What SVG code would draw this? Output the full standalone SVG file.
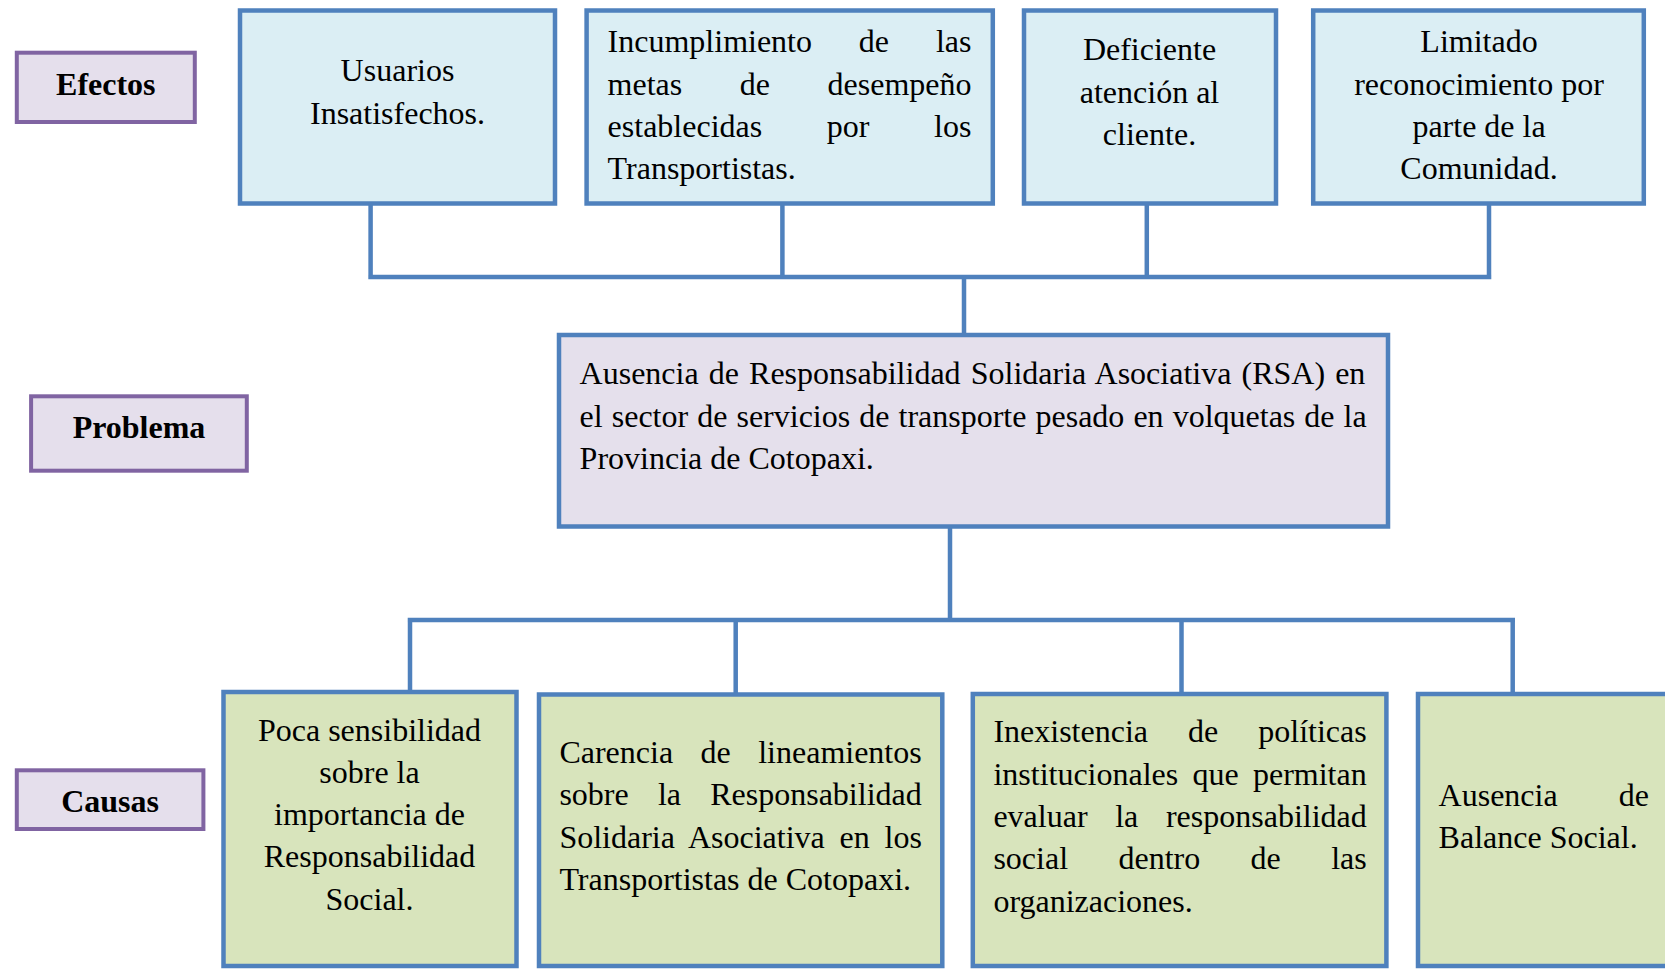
<svg xmlns="http://www.w3.org/2000/svg" width="1665" height="969" viewBox="0 0 1665 969">
<style>
text{font-family:"Liberation Serif","Times New Roman",serif;font-size:32px;fill:#000}
.lbl rect{fill:#E5DFEC;stroke:#8064A2;stroke-width:4}
.lbl text{font-weight:bold;text-anchor:middle}
.eff rect{fill:#DBEEF4;stroke:#4F81BD;stroke-width:4.5}
.prob rect{fill:#E5E0EC;stroke:#4F81BD;stroke-width:4.5}
.cau rect{fill:#D8E4BC;stroke:#4F81BD;stroke-width:4.5}
.c{text-anchor:middle}
#connectors path{fill:none;stroke:#4F81BD;stroke-width:4.5}
</style>
<rect width="1665" height="969" fill="#fff"/>

<g id="connectors">
<path d="M370.6 205 V277 M782.4 205 V277 M1146.8 205 V277 M1489 205 V277 M368.3 277 H1491.3 M964 277 V334"/>
<path d="M950 528 V620 M407.7 620 H1515 M410 620 V691 M735.7 620 V693 M1181.5 620 V693 M1512.7 620 V693"/>
</g>

<g id="label-efectos" class="lbl">
<rect x="16.8" y="52.7" width="178" height="69.3"/>
<text x="105.8" y="95">Efectos</text>
</g>
<g id="label-problema" class="lbl">
<rect x="31.1" y="396.3" width="215.7" height="74.4"/>
<text x="139" y="437.5">Problema</text>
</g>
<g id="label-causas" class="lbl">
<rect x="16.8" y="770.3" width="186.6" height="58.7"/>
<text x="110.1" y="811.7">Causas</text>
</g>

<g id="efecto-usuarios" class="eff">
<rect x="240" y="10.5" width="315" height="193"/>
<text class="c" x="397.5" y="81">Usuarios</text>
<text class="c" x="397.5" y="124">Insatisfechos.</text>
</g>
<g id="efecto-incumplimiento" class="eff">
<rect x="586.6" y="10.5" width="406.2" height="193"/>
<text x="607.6" y="52" word-spacing="38.85">Incumplimiento de las</text>
<text x="607.6" y="94.5" word-spacing="49.55">metas de desempeño</text>
<text x="607.6" y="137" word-spacing="56.6">establecidas por los</text>
<text x="607.6" y="179">Transportistas.</text>
</g>
<g id="efecto-deficiente" class="eff">
<rect x="1024" y="10.5" width="252" height="193"/>
<text class="c" x="1149.5" y="60">Deficiente</text>
<text class="c" x="1149.5" y="102.5">atención al</text>
<text class="c" x="1149.5" y="145">cliente.</text>
</g>
<g id="efecto-limitado" class="eff">
<rect x="1313.2" y="10.5" width="330.6" height="193"/>
<text class="c" x="1479" y="52">Limitado</text>
<text class="c" x="1479" y="94.5">reconocimiento por</text>
<text class="c" x="1479" y="137">parte de la</text>
<text class="c" x="1479" y="179">Comunidad.</text>
</g>

<g id="problema" class="prob">
<rect x="559" y="335" width="829" height="191.5"/>
<text x="579.6" y="384" word-spacing="2.1">Ausencia de Responsabilidad Solidaria Asociativa (RSA) en</text>
<text x="579.6" y="426.5" word-spacing="1.05">el sector de servicios de transporte pesado en volquetas de la</text>
<text x="579.6" y="469">Provincia de Cotopaxi.</text>
</g>

<g id="causa-sensibilidad" class="cau">
<rect x="223.5" y="692" width="293" height="274"/>
<text class="c" x="369.5" y="740.5">Poca sensibilidad</text>
<text class="c" x="369.5" y="782.8">sobre la</text>
<text class="c" x="369.5" y="825.1">importancia de</text>
<text class="c" x="369.5" y="867.4">Responsabilidad</text>
<text class="c" x="369.5" y="909.7">Social.</text>
</g>
<g id="causa-lineamientos" class="cau">
<rect x="539" y="694.5" width="403.3" height="271.5"/>
<text x="559.4" y="763" word-spacing="19.45">Carencia de lineamientos</text>
<text x="559.4" y="805.3" word-spacing="21.2">sobre la Responsabilidad</text>
<text x="559.4" y="847.6" word-spacing="6.8">Solidaria Asociativa en los</text>
<text x="559.4" y="889.9">Transportistas de Cotopaxi.</text>
</g>
<g id="causa-politicas" class="cau">
<rect x="972.8" y="694" width="413.6" height="272"/>
<text x="993.4" y="742.3" word-spacing="32.05">Inexistencia de políticas</text>
<text x="993.4" y="784.6" word-spacing="6.25">institucionales que permitan</text>
<text x="993.4" y="826.9" word-spacing="19.65">evaluar la responsabilidad</text>
<text x="993.4" y="869.2" word-spacing="42.4">social dentro de las</text>
<text x="993.4" y="911.5">organizaciones.</text>
</g>
<g id="causa-balance" class="cau">
<rect x="1418" y="694" width="300" height="272"/>
<text x="1438.6" y="805.7" word-spacing="53.1">Ausencia de</text>
<text x="1438.6" y="848">Balance Social.</text>
</g>
</svg>
